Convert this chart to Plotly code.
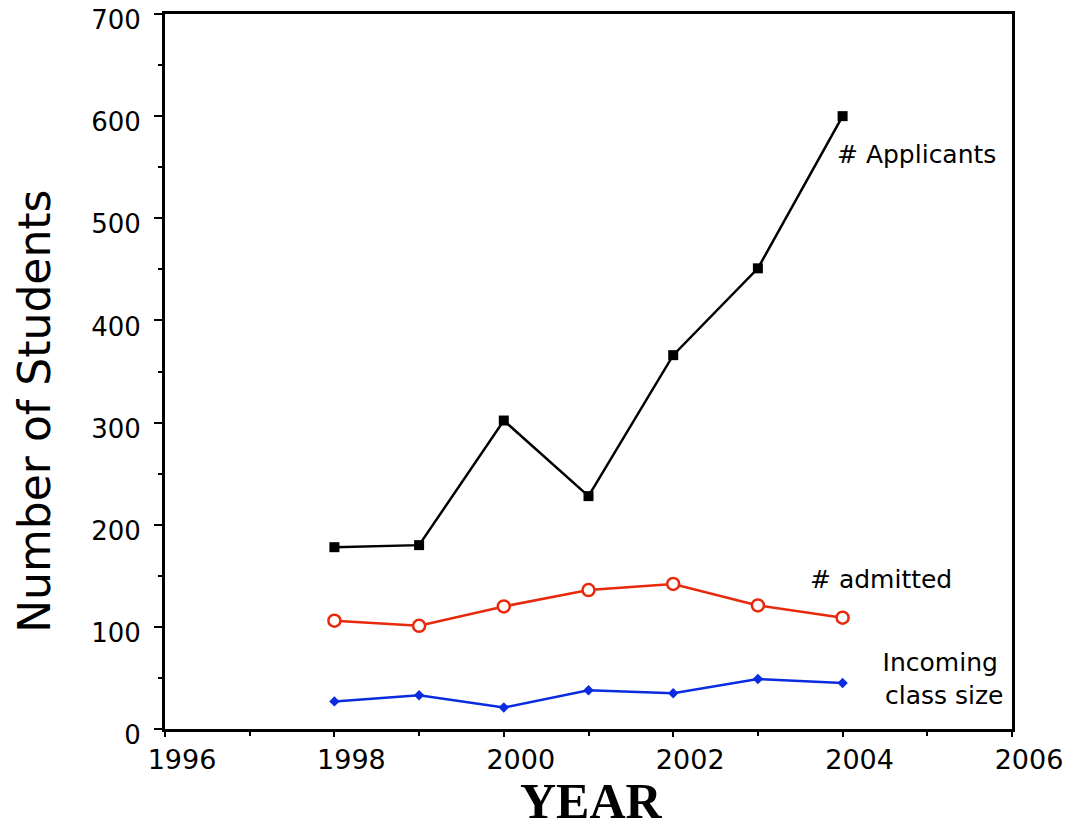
import plotly.graph_objects as go

years = [1998, 1999, 2000, 2001, 2002, 2003, 2004]
applicants = [178, 180, 302, 228, 366, 451, 600]
admitted = [106, 101, 120, 136, 142, 121, 109]
incoming = [27, 33, 21, 38, 35, 49, 45]

x_ticks = [1996, 1998, 2000, 2002, 2004, 2006]
y_ticks = [0, 100, 200, 300, 400, 500, 600, 700]

fig = go.Figure()
fig.add_trace(go.Scatter(x=years, y=applicants, mode="lines+markers", name="# Applicants",
                         line=dict(color="#000000", width=2.5),
                         marker=dict(symbol="square", size=10, color="#000000")))
fig.add_trace(go.Scatter(x=years, y=admitted, mode="lines+markers", name="# admitted",
                         line=dict(color="#e8290b", width=2.5),
                         marker=dict(symbol="circle", size=12, color="white",
                                     line=dict(color="#e8290b", width=2.5))))
fig.add_trace(go.Scatter(x=years, y=incoming, mode="lines+markers", name="Incoming class size",
                         line=dict(color="#0a2be0", width=2.5),
                         marker=dict(symbol="diamond", size=8, color="#0a2be0")))

fig.add_annotation(x=2004, y=600, text="# Applicants", showarrow=False, xanchor="left", yanchor="middle",
                   xshift=-8, yshift=-38, font=dict(family="DejaVu Sans", size=25, color="black"))
fig.add_annotation(x=2004.45, y=146, text="# admitted", showarrow=False, xanchor="center", yanchor="middle",
                   font=dict(family="DejaVu Sans", size=25, color="black"))
fig.add_annotation(x=2005.15, y=49, text="Incoming<br> class size", showarrow=False, xanchor="center",
                   yanchor="middle", align="center",
                   font=dict(family="DejaVu Sans", size=25, color="black"))

# axis titles
fig.add_annotation(xref="paper", yref="paper", x=-0.1535, y=0.445, text="Number of Students",
                   textangle=-90, showarrow=False, xanchor="center", yanchor="middle",
                   font=dict(family="DejaVu Sans", size=44, color="black"))
fig.add_annotation(xref="paper", yref="paper", x=0.504, y=-0.1, text="<b>YEAR</b>",
                   showarrow=False, xanchor="center", yanchor="middle",
                   font=dict(family="Liberation Serif", size=50, color="black"))

fig.update_layout(
    width=1068, height=828,
    margin=dict(l=165, r=56, t=14, b=99, autoexpand=False),
    paper_bgcolor="white", plot_bgcolor="white",
    showlegend=False,
)
fig.update_xaxes(range=[1996, 2006], tickvals=x_ticks, ticktext=[str(v) for v in x_ticks],
                 showgrid=False, zeroline=False, automargin=False, ticklabeloverflow="allow",
                 ticklabelshift=17,
                 showline=True, linecolor="black", linewidth=3, mirror=True,
                 ticks="outside", ticklen=5, tickwidth=2, tickcolor="black",
                 minor=dict(dtick=1, ticks="outside", ticklen=4, tickwidth=1.5, tickcolor="black"),
                 tickfont=dict(family="DejaVu Sans", size=27, color="black"))
fig.update_yaxes(range=[0, 700], tickvals=y_ticks, ticktext=[str(v) for v in y_ticks],
                 showgrid=False, zeroline=False, automargin=False, ticklabeloverflow="allow",
                 ticklabelstandoff=8, ticklabelshift=6,
                 showline=True, linecolor="black", linewidth=3, mirror=True,
                 ticks="outside", ticklen=8, tickwidth=2, tickcolor="black",
                 minor=dict(dtick=50, ticks="outside", ticklen=4, tickwidth=1.5, tickcolor="black"),
                 tickfont=dict(family="DejaVu Sans", size=26, color="black"))

fig.write_html("out.html", config={"displayModeBar": False},
               post_script="document.body.style.margin='0';")
